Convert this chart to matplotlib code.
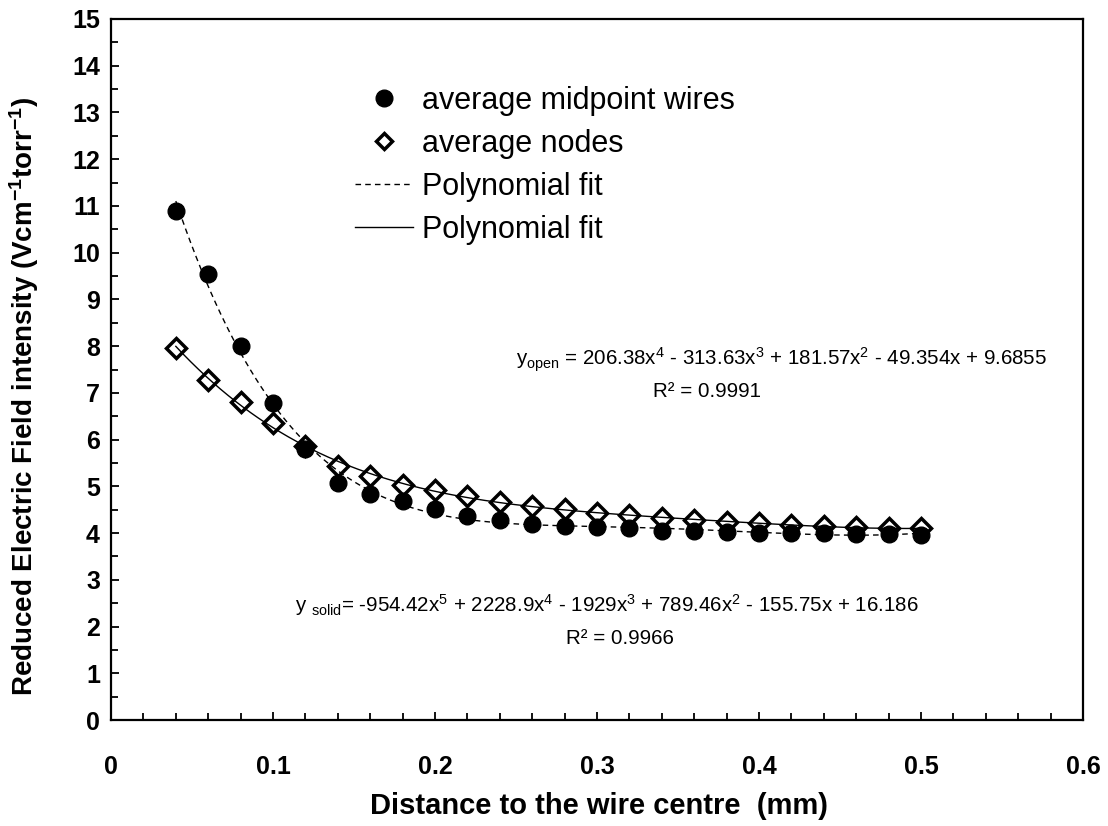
import numpy as np
import matplotlib
matplotlib.use("Agg")
import matplotlib.pyplot as plt
from matplotlib.lines import Line2D
from matplotlib.ticker import MultipleLocator

plt.rcParams['font.family'] = ['Liberation Sans', 'DejaVu Sans']
plt.rcParams['mathtext.fontset'] = 'custom'
plt.rcParams['mathtext.rm'] = 'Liberation Sans'
plt.rcParams['mathtext.it'] = 'Liberation Sans:italic'
plt.rcParams['mathtext.bf'] = 'Liberation Sans:bold'

# ---- data ----
distance_mm = [0.04, 0.06, 0.08, 0.10, 0.12, 0.14, 0.16, 0.18, 0.20, 0.22, 0.24, 0.26,
               0.28, 0.30, 0.32, 0.34, 0.36, 0.38, 0.40, 0.42, 0.44, 0.46, 0.48, 0.50]
midpoint_wires = [10.90, 9.54, 8.01, 6.79, 5.79, 5.07, 4.83, 4.69, 4.51, 4.37, 4.29, 4.19,
                  4.16, 4.12, 4.10, 4.05, 4.04, 4.03, 4.01, 4.00, 4.00, 3.99, 3.98, 3.96]
nodes = [7.97, 7.28, 6.80, 6.35, 5.86, 5.44, 5.22, 5.03, 4.92, 4.79, 4.67, 4.58,
         4.51, 4.44, 4.39, 4.32, 4.28, 4.24, 4.21, 4.17, 4.15, 4.12, 4.10, 4.10]
x_tick_labels = ["0", "0.1", "0.2", "0.3", "0.4", "0.5", "0.6"]
legend_labels = ["average midpoint wires", "average nodes", "Polynomial fit", "Polynomial fit"]
eq_open = (r"y$_{\mathrm{open}}$ = 206.38x$^{4}$ - 313.63x$^{3}$ + 181.57x$^{2}$"
           r" - 49.354x + 9.6855")
r2_open = "R² = 0.9991"
eq_solid = (r"y $_{\mathrm{solid}}$= -954.42x$^{5}$ + 2228.9x$^{4}$ - 1929x$^{3}$"
            r" + 789.46x$^{2}$ - 155.75x + 16.186")
r2_solid = "R² = 0.9966"
x_label = "Distance to the wire centre  (mm)"
y_label = r"Reduced Electric Field intensity (Vcm$^{\mathbf{-1}}$torr$^{\mathbf{-1}}$)"

x = np.array(distance_mm)
y_mid = np.array(midpoint_wires)
y_nod = np.array(nodes)

# polynomial trendlines fitted to the data (as the spreadsheet does)
c_mid = np.polyfit(x, y_mid, 5)
c_nod = np.polyfit(x, y_nod, 4)
xf = np.linspace(x.min(), x.max(), 300)

fig = plt.figure(figsize=(11.08, 8.26), dpi=100)
ax = fig.add_axes([0.1002, 0.1283, 0.9774 - 0.1002, 0.977 - 0.1283])

DASH = (0, (4, 3))
ax.plot(xf, np.polyval(c_mid, xf), color='black', lw=1.0, ls=DASH, zorder=2)
ax.plot(xf, np.polyval(c_nod, xf), color='black', lw=1.0, ls='-', zorder=2)
ax.plot(x, y_mid, 'o', color='black', ms=12, zorder=3)
ax.plot(x, y_nod, 'D', mfc='none', mec='black', mew=2.5, ms=10, zorder=4)

ax.set_xlim(0, 0.6)
ax.set_ylim(0, 15)
ax.xaxis.set_major_locator(MultipleLocator(0.1))
ax.xaxis.set_minor_locator(MultipleLocator(0.02))
ax.yaxis.set_major_locator(MultipleLocator(1))
ax.yaxis.set_minor_locator(MultipleLocator(0.5))
ax.set_xticks(np.arange(0, 0.61, 0.1))
ax.set_xticklabels(x_tick_labels)
ax.tick_params(which='both', direction='in', width=1.3)
ax.tick_params(which='major', length=6)
ax.tick_params(which='minor', length=5)
ax.tick_params(axis='x', which='major', pad=25, labelsize=18)
ax.tick_params(axis='y', which='major', pad=8, labelsize=18)
for lab in ax.get_xticklabels() + ax.get_yticklabels():
    lab.set_fontweight('bold')
for s in ax.spines.values():
    s.set_linewidth(1.6)

ax.set_xlabel(x_label, fontsize=21, fontweight='bold', va='center')
ax.set_ylabel(y_label, fontsize=20, fontweight='bold', va='center')
ax.xaxis.set_label_coords(0.502, -0.123)
ax.yaxis.set_label_coords(-0.0895, 0.462)

ax.text(0.414, 7.7, eq_open, fontsize=14.75, ha='center', va='center')
ax.text(0.368, 7.02, r2_open, fontsize=14.75, ha='center', va='center')
ax.text(0.306, 2.45, eq_solid, fontsize=14.75, ha='center', va='center')
ax.text(0.314, 1.75, r2_solid, fontsize=14.75, ha='center', va='center')

handles = [
    Line2D([], [], marker='o', color='black', ls='none', ms=12),
    Line2D([], [], marker='D', mfc='none', mec='black', mew=2.5, ls='none', ms=8.5),
    Line2D([], [], color='black', lw=1.0, ls=DASH),
    Line2D([], [], color='black', lw=1.0, ls='-'),
]
ax.legend(handles, legend_labels, loc='upper left', bbox_to_anchor=(0.251, 0.905),
          frameon=False, fontsize=22, handlelength=1.9, handletextpad=0.3,
          labelspacing=0.43, borderaxespad=0, borderpad=0)

fig.savefig("out.png", dpi=100)
